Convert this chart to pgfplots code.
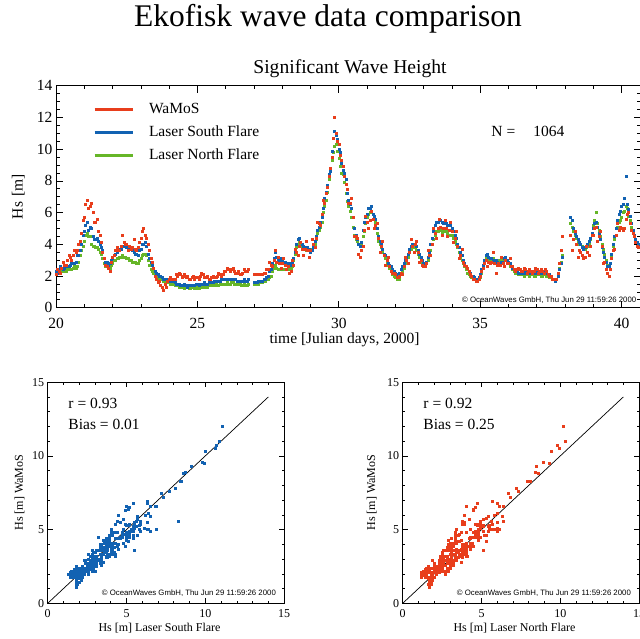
\documentclass[border=0pt]{standalone}
\usepackage{fontspec}
\setmainfont{Liberation Serif}
\newfontfamily\helv{Liberation Sans}
\usepackage{pgfplots}
\usepackage{pgfplotstable}
\pgfplotsset{compat=1.18}

\definecolor{wred}{RGB}{232,62,28}
\definecolor{sblue}{RGB}{18,98,178}
\definecolor{ngreen}{RGB}{102,182,40}

% time [Julian days], Hs WaMoS, Hs laser south, Hs laser north  [m]
\pgfplotstableread{
t W S N
20.0 2.1 2.3 2.2
20.05 2.4 2.2 2.3
20.1 2.3 2.4 2.2
20.15 2.2 2.6 2.2
20.2 2.5 2.5 2.3
20.25 2.9 2.4 2.4
20.3 2.7 2.5 2.3
20.35 2.7 2.7 2.3
20.4 3.0 2.6 2.4
20.45 3.3 2.6 2.5
20.5 3.2 2.7 2.4
20.55 3.0 2.8 2.4
20.6 3.3 2.8 2.5
20.65 3.6 2.8 2.6
20.7 3.5 2.9 2.5
20.75 3.6 3.3 2.6
20.8 4.0 3.3 2.9
20.85 4.2 3.6 3.3
20.9 4.7 4.0 3.6
20.95 5.5 4.6 3.9
21.0 5.7 4.8 4.2
21.05 6.5 5.2 4.6
21.1 6.8 5.4 4.7
21.15 6.3 4.9 4.5
21.2 6.4 5.1 4.5
21.25 6.6 5.0 4.0
21.3 6.0 4.5 3.9
21.35 5.4 4.3 3.9
21.4 5.4 4.3 3.8
21.45 5.6 4.4 3.8
21.5 4.8 4.2 3.7
21.55 4.6 4.0 3.5
21.6 4.1 3.8 3.4
21.65 3.5 3.6 3.1
21.7 3.1 3.1 2.8
21.75 2.7 2.9 2.6
21.8 2.6 2.9 2.6
21.85 2.5 2.7 2.5
21.9 2.3 2.8 2.5
21.95 2.9 3.0 2.7
22.0 3.2 3.1 2.8
22.05 3.3 3.3 3.0
22.1 3.6 3.4 3.0
22.15 3.8 3.5 3.1
22.2 3.6 3.6 3.1
22.25 3.6 3.7 3.2
22.3 3.9 3.7 3.2
22.35 4.6 3.9 3.3
22.4 4.1 3.9 3.2
22.45 4.0 4.0 3.2
22.5 4.0 3.8 3.1
22.55 3.6 3.7 3.1
22.6 3.9 3.7 3.0
22.65 3.7 3.8 3.0
22.7 3.8 3.6 2.9
22.75 4.3 3.5 2.9
22.8 3.7 3.4 2.9
22.85 3.6 3.4 2.8
22.9 3.8 3.3 2.8
22.95 4.1 3.6 3.0
23.0 4.4 3.7 3.1
23.05 4.8 4.0 3.3
23.1 5.0 4.0 3.4
23.15 4.6 4.1 3.4
23.2 4.4 3.9 3.3
23.25 4.0 3.4 3.0
23.3 3.6 3.1 2.7
23.35 3.1 2.9 2.4
23.4 2.9 2.7 2.3
23.45 2.5 2.5 2.2
23.5 2.0 2.3 2.1
23.55 1.8 2.2 2.0
23.6 1.6 2.1 1.9
23.65 1.7 2.0 1.8
23.7 1.4 2.0 1.8
23.75 1.3 1.9 1.8
23.8 1.1 1.8 1.7
23.85 1.5 1.8 1.7
23.9 1.3 1.8 1.6
23.95 1.7 1.8 1.6
24.0 1.8 1.8 1.6
24.05 1.9 1.7 1.5
24.1 1.8 1.7 1.5
24.15 1.8 1.7 1.5
24.2 1.8 1.6 1.4
24.25 2.1 1.5 1.4
24.3 2.0 1.5 1.4
24.35 2.2 1.5 1.3
24.4 2.1 1.4 1.3
24.45 1.9 1.4 1.3
24.5 2.0 1.4 1.3
24.55 2.1 1.5 1.2
24.6 1.9 1.4 1.3
24.65 2.0 1.3 1.3
24.7 1.8 1.4 1.2
24.75 1.8 1.4 1.2
24.8 1.9 1.4 1.3
24.85 2.0 1.4 1.3
24.9 1.8 1.4 1.2
24.95 1.9 1.5 1.3
25.0 1.9 1.5 1.2
25.05 1.8 1.4 1.2
25.1 2.0 1.5 1.3
25.15 2.2 1.5 1.3
25.2 2.1 1.5 1.3
25.25 1.9 1.6 1.4
25.3 1.9 1.5 1.3
25.35 2.0 1.5 1.3
25.4 1.8 1.6 1.4
25.45 1.8 1.6 1.4
25.5 1.9 1.6 1.4
25.55 2.0 1.6 1.4
25.6 1.9 1.7 1.4
25.65 1.9 1.7 1.5
25.7 2.0 1.7 1.4
25.75 2.2 1.7 1.4
25.8 2.1 1.7 1.5
25.85 2.0 1.8 1.5
25.9 2.1 1.8 1.5
25.95 2.3 1.8 1.5
26.0 2.3 1.8 1.5
26.05 2.5 1.8 1.6
26.1 2.4 1.8 1.5
26.15 2.3 1.8 1.5
26.2 2.4 1.8 1.6
26.25 2.5 1.8 1.6
26.3 2.3 1.8 1.5
26.35 2.2 1.8 1.5
26.4 2.2 1.7 1.5
26.45 2.3 1.7 1.5
26.5 2.1 1.7 1.5
26.55 2.1 1.7 1.4
26.6 2.2 1.7 1.4
26.65 2.4 1.8 1.5
26.7 2.3 1.7 1.4
26.75 2.3 1.7 1.4
26.8 2.4 1.8 1.5
27.0 2.1 1.6 1.5
27.05 2.1 1.6 1.5
27.1 2.1 1.6 1.5
27.15 2.1 1.7 1.5
27.2 2.1 1.7 1.6
27.25 2.1 1.7 1.6
27.3 2.1 1.7 1.6
27.35 2.2 1.8 1.7
27.4 2.2 1.8 1.7
27.45 2.4 1.9 1.8
27.5 2.4 2.0 1.8
27.55 2.9 2.3 1.9
27.6 2.7 2.4 2.0
27.65 2.6 2.8 2.3
27.7 3.0 3.1 2.5
27.75 3.6 3.5 2.7
27.8 2.9 3.2 2.5
27.85 3.2 3.0 2.4
27.9 2.8 3.0 2.4
27.95 2.5 3.1 2.5
28.0 2.8 3.0 2.4
28.05 3.1 2.9 2.4
28.1 2.7 2.9 2.4
28.15 2.4 2.8 2.4
28.2 2.6 2.8 2.4
28.25 2.2 2.8 2.5
28.3 2.3 2.7 2.4
28.35 3.0 2.9 2.6
28.4 2.7 3.1 3.0
28.45 3.7 3.5 3.4
28.5 3.5 4.0 3.8
28.55 3.3 4.3 4.0
28.6 3.9 4.4 4.1
28.65 4.1 4.1 4.0
28.7 3.7 4.0 3.9
28.75 3.3 3.9 3.8
28.8 3.7 3.8 3.7
28.85 4.2 3.7 3.6
28.9 3.6 3.8 3.7
28.95 3.2 3.7 3.6
29.0 3.6 3.5 3.5
29.05 4.3 3.6 3.7
29.1 4.0 3.8 3.9
29.15 3.8 4.2 4.0
29.2 4.4 4.5 4.3
29.25 5.4 4.9 4.7
29.3 5.3 5.1 4.9
29.35 5.2 5.4 5.1
29.4 5.9 5.7 5.4
29.45 6.8 6.3 6.0
29.5 6.6 6.9 6.4
29.55 7.2 7.3 6.8
29.6 7.6 7.7 7.3
29.65 8.3 8.4 8.1
29.7 8.8 8.6 8.6
29.75 9.5 9.9 9.3
29.8 10.7 10.7 9.8
29.85 12.0 11.1 10.2
29.9 11.0 10.9 10.3
29.95 10.5 10.6 9.9
30.0 10.3 10.0 9.4
30.05 9.6 9.8 8.9
30.1 9.3 9.1 8.5
30.15 8.9 8.7 8.4
30.2 8.3 8.5 7.9
30.25 7.8 8.1 7.2
30.3 7.5 7.2 6.7
30.35 6.6 6.8 6.4
30.4 6.6 6.5 6.1
30.45 6.9 6.3 5.7
30.5 5.7 5.7 5.1
30.55 4.5 5.0 4.6
30.6 4.5 4.6 4.3
30.65 4.4 4.3 4.2
30.7 3.4 4.0 4.0
30.75 3.2 3.9 4.0
30.8 3.6 4.1 4.0
30.85 3.9 4.9 4.5
30.9 4.9 5.4 4.8
30.95 5.8 5.7 5.3
31.0 5.4 5.9 5.7
31.05 5.0 6.3 5.9
31.1 5.5 6.3 6.0
31.15 6.1 6.4 6.0
31.2 5.6 5.9 5.6
31.25 5.0 5.8 5.7
31.3 5.2 5.6 5.4
31.35 5.3 5.0 4.7
31.4 4.4 4.5 4.2
31.45 3.5 4.2 4.0
31.5 3.9 4.0 3.8
31.55 4.2 3.7 3.5
31.6 3.3 3.4 3.3
31.65 2.7 3.3 3.1
31.7 3.0 3.0 2.9
31.75 3.2 2.8 2.7
31.8 2.6 2.7 2.5
31.85 2.3 2.6 2.3
31.9 2.2 2.4 2.1
31.95 2.2 2.3 2.0
32.0 2.1 2.2 1.9
32.05 1.9 2.1 1.8
32.1 1.9 2.0 1.8
32.15 2.0 2.2 1.8
32.2 2.2 2.4 2.1
32.25 2.1 2.6 2.3
32.3 2.6 2.8 2.5
32.35 3.2 3.0 2.8
32.4 3.0 3.2 3.0
32.45 2.8 3.4 3.2
32.5 3.5 3.7 3.5
32.55 4.3 3.9 3.7
32.6 3.9 4.0 3.8
32.65 3.5 4.0 3.9
32.7 4.0 4.0 3.8
32.75 4.2 3.9 3.6
32.8 3.5 3.6 3.4
32.85 2.9 3.4 3.2
32.9 3.0 3.2 3.0
32.95 2.7 3.0 2.8
33.0 2.6 2.8 2.7
33.05 2.6 2.8 2.7
33.1 2.8 2.9 2.8
33.15 3.6 3.2 3.0
33.2 3.3 3.5 3.3
33.25 3.3 4.0 3.6
33.3 4.0 4.4 4.0
33.35 5.0 4.8 4.3
33.4 4.7 5.2 4.6
33.45 4.4 5.4 4.8
33.5 5.0 5.4 4.8
33.55 5.6 5.6 4.9
33.6 5.1 5.5 4.9
33.65 4.6 5.4 4.7
33.7 5.0 5.3 4.8
33.75 5.5 5.5 4.9
33.8 5.0 5.3 4.8
33.85 4.5 5.2 4.7
33.9 4.9 5.2 4.6
33.95 5.4 5.2 4.6
34.0 4.8 5.0 4.6
34.05 4.1 4.8 4.4
34.1 4.4 4.6 4.2
34.15 4.8 4.4 4.0
34.2 3.9 4.0 3.8
34.25 3.1 3.8 3.5
34.3 3.3 3.5 3.2
34.35 3.7 3.3 3.0
34.4 2.9 3.0 2.8
34.45 2.7 2.8 2.6
34.5 2.6 2.6 2.4
34.55 2.5 2.5 2.2
34.6 2.3 2.3 2.1
34.65 2.1 2.2 2.0
34.7 2.0 2.0 1.9
34.75 1.8 2.0 1.8
34.8 1.8 1.9 1.8
34.85 1.7 1.8 1.8
34.9 1.7 1.8 1.8
34.95 1.8 1.9 1.8
35.0 2.0 2.1 1.9
35.05 2.3 2.4 2.2
35.1 2.5 2.7 2.5
35.15 2.8 3.0 2.8
35.2 3.0 3.3 3.1
35.25 2.6 3.4 3.2
35.3 2.9 3.2 3.0
35.35 2.8 3.1 2.9
35.4 2.9 3.1 3.0
35.45 3.5 3.0 3.1
35.5 2.8 3.0 3.0
35.55 2.2 3.0 2.9
35.6 2.7 2.9 2.9
35.65 2.8 2.8 3.0
35.7 2.7 2.8 3.0
35.75 3.2 2.9 3.1
35.8 2.8 2.9 3.0
35.85 2.6 3.1 3.0
35.9 3.0 3.2 3.1
35.95 2.8 3.0 3.0
36.0 2.8 2.9 2.8
36.05 3.1 2.8 2.6
36.1 2.6 2.6 2.6
36.15 2.6 2.5 2.4
36.2 2.4 2.4 2.3
36.25 2.3 2.4 2.2
36.3 2.4 2.3 2.2
36.35 2.5 2.2 2.1
36.4 2.4 2.2 2.1
36.45 2.3 2.3 2.1
36.5 2.3 2.2 2.1
36.55 2.5 2.2 2.0
36.6 2.4 2.3 2.1
36.65 2.2 2.3 2.1
36.7 2.3 2.2 2.1
36.75 2.4 2.2 2.0
36.8 2.3 2.2 2.1
36.85 2.2 2.3 2.1
36.9 2.3 2.2 2.0
36.95 2.5 2.2 2.0
37.0 2.4 2.3 2.1
37.05 2.2 2.3 2.1
37.1 2.3 2.2 2.1
37.15 2.4 2.2 2.0
37.2 2.3 2.2 2.0
37.25 2.2 2.3 2.1
37.3 2.4 2.3 2.1
37.35 2.3 2.2 2.0
37.4 2.1 2.1 2.0
37.45 2.0 2.1 1.9
37.5 2.0 2.0 1.9
37.55 1.8 1.8 1.8
37.6 1.8 1.8 1.8
37.65 1.8 1.7 1.8
37.7 1.8 1.8 1.8
37.75 2.2 2.0 2.1
37.8 2.8 2.4 2.5
37.85 3.6 2.8 2.9
37.9 4.5 3.2 3.3
38.2 4.6 5.7 5.3
38.25 3.6 5.5 5.1
38.3 4.3 5.0 4.8
38.35 4.8 4.7 4.6
38.4 4.0 4.5 4.4
38.45 3.2 4.3 4.1
38.5 3.6 4.1 4.0
38.55 3.5 4.0 4.0
38.6 3.3 3.8 3.9
38.65 3.1 3.7 3.8
38.7 3.2 3.8 3.7
38.75 3.9 3.9 3.8
38.8 3.5 4.0 3.9
38.85 3.3 4.2 4.0
38.9 3.9 4.4 4.3
38.95 4.6 4.7 4.7
39.0 4.6 5.0 5.2
39.05 5.0 5.3 5.5
39.1 5.1 5.4 6.0
39.15 4.2 5.1 5.3
39.2 4.5 4.7 4.9
39.25 4.8 4.3 4.5
39.3 3.9 3.8 4.0
39.35 2.8 3.5 3.7
39.4 2.9 3.2 3.4
39.45 2.4 2.9 3.0
39.5 2.2 2.6 2.7
39.55 2.0 2.6 2.7
39.6 2.4 2.8 2.8
39.65 3.1 3.4 3.3
39.7 3.6 4.0 3.9
39.75 3.7 4.5 4.3
39.8 4.6 5.0 4.6
39.85 5.3 5.5 5.1
39.9 4.9 5.9 5.4
39.95 5.1 6.1 5.5
40.0 5.0 6.4 5.7
40.05 4.9 6.5 6.0
40.1 5.0 6.9 6.1
40.15 5.6 8.3 6.4
40.2 5.9 6.5 6.3
40.25 6.0 6.2 5.8
40.3 5.3 5.8 5.5
40.35 4.9 5.3 5.1
40.4 4.7 4.9 4.8
40.45 4.5 4.6 4.5
40.5 4.1 4.3 4.3
40.55 3.9 4.1 4.1
40.6 3.8 4.0 4.0
40.65 3.8 4.0 3.9
40.7 3.6 3.8 3.8
}\hsdata

\tikzset{
  cr/.style={font=\helv\fontsize{7.8}{9}\selectfont, anchor=base east, inner sep=0pt},
  big/.style={font=\fontsize{15.5}{18}\selectfont},
}
\pgfplotsset{
  idl/.style={
    scale only axis,
    anchor=south west,
    axis line style={black, line width=0.6pt},
    tick style={black, line width=0.6pt},
    /pgf/number format/assume math mode=true,
  },
  scat/.style={
    idl,
    width=236.4pt, height=221.1pt,
    xmin=0, xmax=15, ymin=0, ymax=15,
    xtick={0,5,10,15}, ytick={0,5,10,15},
    minor tick num=4,
    major tick length=5pt, minor tick length=2.5pt,
    tick label style={font=\fontsize{12}{14}\selectfont},
    xticklabel style={yshift=-3pt},
    label style={font=\fontsize{12}{14}\selectfont},
    xlabel style={at={(axis description cs:0.473,-0.112)}, anchor=center},
    ylabel={Hs [m] WaMoS},
  },
}

\begin{document}
\begin{tikzpicture}
\node[anchor=base, font=\fontsize{31.5}{36}\selectfont] at (328pt,-27pt) {Ekofisk wave data comparison};

\begin{axis}[idl, at={(56pt,-307.7pt)},
  width=584.5pt, height=222pt,
  xmin=20, xmax=40.67, ymin=0, ymax=14,
  xtick={20,25,...,40}, minor x tick num=4,
  ytick={0,2,...,14}, minor y tick num=3,
  major tick length=7pt, minor tick length=3.5pt,
  tick label style={font=\fontsize{15.5}{18}\selectfont},
  xticklabel style={yshift=-7pt},
  label style={font=\fontsize{15.5}{18}\selectfont},
  title={Significant Wave Height},
  title style={at={(axis description cs:0.503,1.030)}, anchor=base,
    font=\fontsize{19.6}{22}\selectfont},
  xlabel={time [Julian days, 2000]},
  ylabel={Hs\hspace{5pt}[m]},
  xlabel style={at={(axis description cs:0.4936,-0.1455)}, anchor=center},
  ylabel style={at={(axis description cs:-0.0645,0.5)}, anchor=center},
  legend image code/.code={\draw[#1] (0pt,0pt) -- (38pt,0pt);},
  legend cell align=left,
  legend style={at={(axis description cs:0.063,0.930)}, anchor=north west,
    draw=none, fill=none, inner sep=0pt, row sep=7pt,
    font=\fontsize{15.5}{18}\selectfont,
    nodes={inner sep=1pt, text height=11pt, text depth=3pt},
    /tikz/every odd column/.append style={column sep=14pt}},
]
\addlegendimage{wred, line width=3pt}
\addlegendentry{WaMoS}
\addlegendimage{sblue, line width=3pt}
\addlegendentry{Laser South Flare}
\addlegendimage{ngreen, line width=3pt}
\addlegendentry{Laser North Flare}
\addplot[forget plot, only marks, mark=square*, mark size=1pt, ngreen] table[x=t, y=N] {\hsdata};
\addplot[forget plot, only marks, mark=square*, mark size=1pt, sblue] table[x=t, y=S] {\hsdata};
\addplot[forget plot, only marks, mark=square*, mark size=1pt, wred] table[x=t, y=W] {\hsdata};
\node[big, anchor=base west] at (axis description cs:0.739,0.769) {N =\hspace{18pt}1064};
\node[cr] at (axis description cs:0.993,0.025) {\textcopyright{} OceanWaves GmbH, Thu Jun 29 11:59:26 2000};
\end{axis}

\begin{axis}[scat, at={(47.7pt,-603.3pt)},
  xlabel={Hs [m] Laser South Flare},
  ylabel style={at={(axis description cs:-0.119,0.5)}, anchor=center},
]
\addplot[only marks, mark=square*, mark size=1pt, sblue] table[x=S, y=W] {\hsdata};
\addplot[black, line width=0.7pt] coordinates {(0,0) (14,14)};
\node[big, anchor=base west] at (axis description cs:0.073,0.883) {r = 0.93};
\node[big, anchor=base west] at (axis description cs:0.073,0.788) {Bias = 0.01};
\node[cr] at (axis description cs:0.966,0.0375) {\textcopyright{} OceanWaves GmbH, Thu Jun 29 11:59:26 2000};
\end{axis}

\begin{axis}[scat, at={(402.7pt,-603.3pt)},
  xlabel={Hs [m] Laser North Flare},
  ylabel style={at={(axis description cs:-0.131,0.5)}, anchor=center},
]
\addplot[only marks, mark=square*, mark size=1pt, wred] table[x=N, y=W] {\hsdata};
\addplot[black, line width=0.7pt] coordinates {(0,0) (14,14)};
\node[big, anchor=base west] at (axis description cs:0.073,0.883) {r = 0.92};
\node[big, anchor=base west] at (axis description cs:0.073,0.788) {Bias = 0.25};
\node[cr] at (axis description cs:0.966,0.0375) {\textcopyright{} OceanWaves GmbH, Thu Jun 29 11:59:26 2000};
\end{axis}

\pgfresetboundingbox
\path[use as bounding box] (0pt,0pt) rectangle (640pt,-639pt);
\end{tikzpicture}
\end{document}
